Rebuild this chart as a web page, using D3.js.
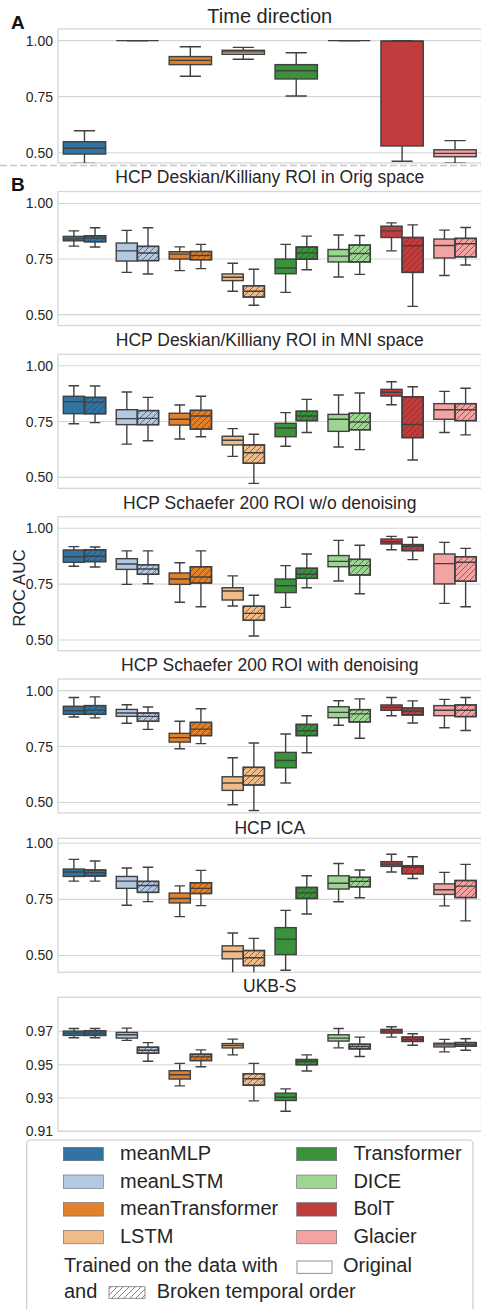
<!DOCTYPE html>
<html>
<head>
<meta charset="utf-8">
<script src="https://cdn.jsdelivr.net/npm/d3@7"></script>
<style>
  body { margin: 0; background: #fff; }
  svg { display: block; font-family: "Liberation Sans", Arial, sans-serif; }
</style>
</head>
<body>
<svg width="481" height="1309"></svg>
<script>
var models = ["meanMLP", "meanLSTM", "meanTransformer", "LSTM", "Transformer", "DICE", "BolT", "Glacier"];
var colors = ["#3274a1", "#b3c8e3", "#e1812c", "#eebb89", "#3a923a", "#9dd692", "#c03d3e", "#f2a3a2"];
var orders = ["Original", "Broken temporal order"];

// each box: [low whisker, q1, median, q3, high whisker]
var timeDirection = [
  [0.452, 0.494, 0.520, 0.549, 0.598],
  [1.000, 1.000, 1.000, 1.000, 1.000],
  [0.841, 0.893, 0.912, 0.929, 0.973],
  [0.917, 0.939, 0.950, 0.957, 0.970],
  [0.753, 0.829, 0.866, 0.893, 0.946],
  [1.000, 1.000, 1.000, 1.000, 1.000],
  [0.462, 0.530, 0.998, 0.998, 1.000],
  [0.453, 0.482, 0.497, 0.513, 0.554]
];

var dkOrigOriginal = [
  [0.808, 0.832, 0.841, 0.852, 0.877],
  [0.690, 0.741, 0.787, 0.822, 0.879],
  [0.698, 0.750, 0.772, 0.783, 0.805],
  [0.605, 0.653, 0.668, 0.683, 0.731],
  [0.600, 0.684, 0.710, 0.750, 0.816],
  [0.669, 0.737, 0.763, 0.793, 0.858],
  [0.787, 0.847, 0.877, 0.898, 0.913],
  [0.676, 0.755, 0.811, 0.840, 0.880]
];
var dkOrigBroken = [
  [0.804, 0.828, 0.844, 0.855, 0.891],
  [0.683, 0.743, 0.777, 0.807, 0.891],
  [0.707, 0.747, 0.766, 0.784, 0.816],
  [0.542, 0.579, 0.605, 0.630, 0.704],
  [0.702, 0.749, 0.778, 0.804, 0.853],
  [0.681, 0.737, 0.775, 0.813, 0.856],
  [0.537, 0.690, 0.810, 0.847, 0.904],
  [0.723, 0.760, 0.819, 0.843, 0.892]
];

var dkMniOriginal = [
  [0.740, 0.785, 0.839, 0.863, 0.910],
  [0.649, 0.736, 0.763, 0.803, 0.882],
  [0.672, 0.734, 0.760, 0.787, 0.824],
  [0.594, 0.645, 0.666, 0.684, 0.718],
  [0.639, 0.682, 0.721, 0.742, 0.790],
  [0.636, 0.706, 0.760, 0.782, 0.869],
  [0.825, 0.864, 0.881, 0.894, 0.928],
  [0.701, 0.760, 0.803, 0.830, 0.885]
];
var dkMniBroken = [
  [0.745, 0.785, 0.837, 0.858, 0.909],
  [0.664, 0.736, 0.764, 0.799, 0.858],
  [0.682, 0.716, 0.775, 0.800, 0.863],
  [0.473, 0.563, 0.610, 0.645, 0.693],
  [0.701, 0.754, 0.775, 0.796, 0.849],
  [0.624, 0.713, 0.748, 0.787, 0.878],
  [0.578, 0.678, 0.737, 0.861, 0.906],
  [0.690, 0.754, 0.803, 0.830, 0.899]
];

var schRawOriginal = [
  [0.830, 0.848, 0.873, 0.903, 0.918],
  [0.749, 0.816, 0.840, 0.864, 0.899],
  [0.669, 0.749, 0.773, 0.800, 0.846],
  [0.652, 0.679, 0.719, 0.734, 0.787],
  [0.646, 0.712, 0.743, 0.773, 0.833],
  [0.764, 0.828, 0.852, 0.878, 0.946],
  [0.904, 0.930, 0.940, 0.952, 0.964],
  [0.664, 0.751, 0.842, 0.885, 0.937]
];
var schRawBroken = [
  [0.827, 0.851, 0.875, 0.904, 0.916],
  [0.752, 0.794, 0.818, 0.837, 0.899],
  [0.649, 0.755, 0.782, 0.828, 0.899],
  [0.518, 0.588, 0.619, 0.651, 0.700],
  [0.734, 0.776, 0.794, 0.821, 0.885],
  [0.707, 0.791, 0.833, 0.861, 0.924],
  [0.860, 0.900, 0.919, 0.927, 0.960],
  [0.649, 0.763, 0.848, 0.873, 0.910]
];

var schDenOriginal = [
  [0.882, 0.894, 0.910, 0.930, 0.969],
  [0.854, 0.885, 0.900, 0.916, 0.937],
  [0.740, 0.770, 0.790, 0.809, 0.863],
  [0.490, 0.554, 0.587, 0.615, 0.700],
  [0.587, 0.655, 0.688, 0.724, 0.806],
  [0.845, 0.879, 0.903, 0.928, 0.955],
  [0.888, 0.912, 0.925, 0.936, 0.969],
  [0.834, 0.888, 0.912, 0.933, 0.961]
];
var schDenBroken = [
  [0.878, 0.894, 0.913, 0.933, 0.972],
  [0.827, 0.863, 0.885, 0.900, 0.927],
  [0.763, 0.799, 0.828, 0.858, 0.919],
  [0.464, 0.578, 0.619, 0.657, 0.766],
  [0.722, 0.799, 0.821, 0.849, 0.888],
  [0.787, 0.860, 0.896, 0.915, 0.963],
  [0.855, 0.891, 0.909, 0.922, 0.954],
  [0.822, 0.884, 0.912, 0.936, 0.969]
];

var icaOriginal = [
  [0.831, 0.852, 0.872, 0.885, 0.928],
  [0.724, 0.799, 0.831, 0.852, 0.890],
  [0.673, 0.734, 0.754, 0.778, 0.810],
  [0.400, 0.485, 0.518, 0.543, 0.600],
  [0.434, 0.504, 0.573, 0.624, 0.701],
  [0.739, 0.796, 0.822, 0.855, 0.910],
  [0.872, 0.897, 0.907, 0.918, 0.951],
  [0.721, 0.772, 0.793, 0.819, 0.870]
];
var icaBroken = [
  [0.831, 0.854, 0.869, 0.881, 0.921],
  [0.740, 0.781, 0.812, 0.830, 0.893],
  [0.722, 0.776, 0.799, 0.824, 0.879],
  [0.410, 0.455, 0.490, 0.522, 0.576],
  [0.685, 0.754, 0.779, 0.803, 0.855],
  [0.757, 0.806, 0.830, 0.848, 0.881],
  [0.843, 0.864, 0.893, 0.900, 0.940],
  [0.654, 0.758, 0.809, 0.834, 0.906]
];

var ukbOriginal = [
  [0.9662, 0.9676, 0.9690, 0.9702, 0.9718],
  [0.9646, 0.9660, 0.9680, 0.9694, 0.9720],
  [0.9373, 0.9414, 0.9440, 0.9464, 0.9508],
  [0.9559, 0.9601, 0.9615, 0.9627, 0.9654],
  [0.9220, 0.9285, 0.9305, 0.9329, 0.9355],
  [0.9601, 0.9642, 0.9660, 0.9680, 0.9718],
  [0.9666, 0.9690, 0.9702, 0.9712, 0.9728],
  [0.9577, 0.9607, 0.9619, 0.9629, 0.9652]
];
var ukbBroken = [
  [0.9662, 0.9676, 0.9690, 0.9704, 0.9718],
  [0.9521, 0.9569, 0.9587, 0.9605, 0.9633],
  [0.9488, 0.9525, 0.9547, 0.9563, 0.9589],
  [0.9283, 0.9377, 0.9416, 0.9446, 0.9508],
  [0.9462, 0.9500, 0.9519, 0.9531, 0.9559],
  [0.9549, 0.9595, 0.9609, 0.9623, 0.9666],
  [0.9617, 0.9640, 0.9652, 0.9666, 0.9686],
  [0.9587, 0.9611, 0.9621, 0.9633, 0.9656]
];

var ticksAUC = [0.50, 0.75, 1.00];
var ticksUKB = [0.91, 0.93, 0.95, 0.97];

var titles = [
  "Time direction",
  "HCP Deskian/Killiany ROI in Orig space",
  "HCP Deskian/Killiany ROI in MNI space",
  "HCP Schaefer 200 ROI w/o denoising",
  "HCP Schaefer 200 ROI with denoising",
  "HCP ICA",
  "UKB-S"
];
var yLimits = [
  [0.454, 1.052], [0.451, 1.054], [0.451, 1.051], [0.452, 1.052],
  [0.453, 1.052], [0.425, 1.022], [0.910, 0.9905]
];

// panel list (boxes per panel: single series for A, two hue series for B)
var panels = [
  { title: titles[0], series: [timeDirection], ticks: ticksAUC, lim: yLimits[0] },
  { title: titles[1], series: [dkOrigOriginal, dkOrigBroken], ticks: ticksAUC, lim: yLimits[1] },
  { title: titles[2], series: [dkMniOriginal, dkMniBroken], ticks: ticksAUC, lim: yLimits[2] },
  { title: titles[3], series: [schRawOriginal, schRawBroken], ticks: ticksAUC, lim: yLimits[3] },
  { title: titles[4], series: [schDenOriginal, schDenBroken], ticks: ticksAUC, lim: yLimits[4] },
  { title: titles[5], series: [icaOriginal, icaBroken], ticks: ticksAUC, lim: yLimits[5] },
  { title: titles[6], series: [ukbOriginal, ukbBroken], ticks: ticksUKB, lim: yLimits[6] }
];

// layout
var left = 58, right = 481.5, plotH = 134;
var tops = [29, 191.5, 354.3, 516.7, 679, 838.3, 997.3];
var titleY = [22.5, 182.5, 345.5, 509, 671, 833.5, 991.5];
var edge = "#404040", gridColor = "#d6d6d6", textColor = "#262626";

var svg = d3.select("svg");
var defs = svg.append("defs");

// hatch "///"
defs.append("pattern")
    .attr("id", "hatch")
    .attr("patternUnits", "userSpaceOnUse")
    .attr("width", 6)
    .attr("height", 6)
  .append("path")
    .attr("d", "M-1,1 l2,-2 M0,6 l6,-6 M5,7 l2,-2")
    .attr("stroke", edge)
    .attr("stroke-opacity", 0.75)
    .attr("stroke-width", 0.9);

var x = d3.scaleBand().domain(models).range([left, right]).padding(0);
var hue = d3.scaleBand().domain(orders)
    .range([x.bandwidth() * 0.1, x.bandwidth() * 0.9]).padding(0);

panels.forEach(function(p, pi) {
  var top = tops[pi];
  var y = d3.scaleLinear().domain(p.lim).range([top + plotH, top]);
  var g = svg.append("g");

  defs.append("clipPath").attr("id", "clip" + pi)
    .append("rect")
      .attr("x", left).attr("y", top)
      .attr("width", right - left).attr("height", plotH);

  // grid
  g.selectAll("line.grid")
    .data(p.ticks)
    .enter().append("line")
      .attr("x1", left).attr("x2", right)
      .attr("y1", function(d) { return y(d); })
      .attr("y2", function(d) { return y(d); })
      .attr("stroke", gridColor)
      .attr("stroke-width", 1.1);

  // frame
  g.append("rect")
    .attr("x", left).attr("y", top)
    .attr("width", right - left).attr("height", plotH)
    .attr("fill", "none")
    .attr("stroke", gridColor)
    .attr("stroke-width", 1.3);

  // y axis labels
  var axis = d3.axisLeft(y).tickValues(p.ticks).tickSize(0).tickPadding(5)
      .tickFormat(d3.format(".2f"));
  var ax = g.append("g").attr("transform", "translate(" + (left) + ",0)").call(axis);
  ax.select(".domain").remove();
  ax.selectAll("text")
    .attr("font-size", 14)
    .attr("font-family", "Liberation Sans, Arial, sans-serif")
    .attr("fill", textColor);

  // title
  g.append("text")
    .attr("x", (left + right) / 2)
    .attr("y", titleY[pi])
    .attr("text-anchor", "middle")
    .attr("font-size", pi === 0 ? 20 : 17.5)
    .attr("fill", textColor)
    .text(p.title);

  // boxes
  var boxes = [];
  p.series.forEach(function(ser, si) {
    ser.forEach(function(s, mi) {
      var cx, w;
      if (p.series.length === 1) {
        cx = x(models[mi]) + x.bandwidth() / 2;
        w = x.bandwidth() * 0.8;
      } else {
        cx = x(models[mi]) + hue(orders[si]) + hue.bandwidth() / 2;
        w = hue.bandwidth();
      }
      boxes.push({ cx: cx, w: w, s: s, color: colors[mi], hatched: si === 1 });
    });
  });

  var bg = g.append("g").attr("clip-path", "url(#clip" + pi + ")");
  var b = bg.selectAll("g.box").data(boxes).enter().append("g").attr("class", "box");

  // whiskers
  b.append("line")
    .attr("x1", function(d) { return d.cx; }).attr("x2", function(d) { return d.cx; })
    .attr("y1", function(d) { return y(d.s[4]); }).attr("y2", function(d) { return y(d.s[3]); })
    .attr("stroke", edge).attr("stroke-width", 1.4);
  b.append("line")
    .attr("x1", function(d) { return d.cx; }).attr("x2", function(d) { return d.cx; })
    .attr("y1", function(d) { return y(d.s[1]); }).attr("y2", function(d) { return y(d.s[0]); })
    .attr("stroke", edge).attr("stroke-width", 1.4);
  // caps
  [0, 4].forEach(function(k) {
    b.append("line")
      .attr("x1", function(d) { return d.cx - d.w / 4; })
      .attr("x2", function(d) { return d.cx + d.w / 4; })
      .attr("y1", function(d) { return y(d.s[k]); })
      .attr("y2", function(d) { return y(d.s[k]); })
      .attr("stroke", edge).attr("stroke-width", 1.4);
  });
  // box body
  b.append("rect")
    .attr("x", function(d) { return d.cx - d.w / 2; })
    .attr("y", function(d) { return y(d.s[3]); })
    .attr("width", function(d) { return d.w; })
    .attr("height", function(d) { return Math.max(0, y(d.s[1]) - y(d.s[3])); })
    .attr("fill", function(d) { return d.color; })
    .attr("stroke", edge).attr("stroke-width", 1.4);
  b.filter(function(d) { return d.hatched; })
    .append("rect")
      .attr("x", function(d) { return d.cx - d.w / 2; })
      .attr("y", function(d) { return y(d.s[3]); })
      .attr("width", function(d) { return d.w; })
      .attr("height", function(d) { return Math.max(0, y(d.s[1]) - y(d.s[3])); })
      .attr("fill", "url(#hatch)")
      .attr("stroke", edge).attr("stroke-width", 1.4);
  // median
  b.append("line")
    .attr("x1", function(d) { return d.cx - d.w / 2; })
    .attr("x2", function(d) { return d.cx + d.w / 2; })
    .attr("y1", function(d) { return y(d.s[2]); })
    .attr("y2", function(d) { return y(d.s[2]); })
    .attr("stroke", edge).attr("stroke-width", 1.4);
});

// panel letters
svg.append("text").attr("x", 11).attr("y", 28.5)
  .attr("font-size", 19).attr("font-weight", "bold").attr("fill", "#111").text("A");
svg.append("text").attr("x", 11).attr("y", 191)
  .attr("font-size", 19).attr("font-weight", "bold").attr("fill", "#111").text("B");

// separator
svg.append("line")
  .attr("x1", 0).attr("x2", 481).attr("y1", 165.5).attr("y2", 165.5)
  .attr("stroke", "#c8c8c8").attr("stroke-width", 1.3)
  .attr("stroke-dasharray", "7,3");

// y label
svg.append("text")
  .attr("transform", "translate(25,588) rotate(-90)")
  .attr("text-anchor", "middle")
  .attr("font-size", 17)
  .attr("fill", textColor)
  .text("ROC AUC");

// legend
var lg = svg.append("g");
lg.append("rect")
  .attr("x", 26.7).attr("y", 1140).attr("width", 446.3).attr("height", 200)
  .attr("rx", 4)
  .attr("fill", "#fff").attr("stroke", "#cccccc").attr("stroke-width", 1.2);

var rowH = 27.7;
var items = lg.selectAll("g.item").data(models).enter().append("g").attr("class", "item")
  .attr("transform", function(d, i) {
    var col = i < 4 ? 0 : 1, row = i % 4;
    return "translate(" + (col ? 296.7 : 63.3) + "," + (1147.3 + row * rowH) + ")";
  });
items.append("rect")
  .attr("width", 40).attr("height", 13.4)
  .attr("fill", function(d, i) { return colors[i]; })
  .attr("stroke", "#666").attr("stroke-width", 0.6);
items.append("text")
  .attr("x", 56.7).attr("y", 12.7)
  .attr("font-size", 20).attr("fill", textColor)
  .text(function(d) { return d; });

lg.append("text").attr("x", 64).attr("y", 1271.5)
  .attr("font-size", 20).attr("fill", textColor).text("Trained on the data with");
lg.append("rect").attr("x", 297).attr("y", 1261).attr("width", 35).attr("height", 12.3)
  .attr("fill", "#fff").attr("stroke", "#777").attr("stroke-width", 0.8);
lg.append("text").attr("x", 343).attr("y", 1271.5)
  .attr("font-size", 20).attr("fill", textColor).text(orders[0]);

lg.append("text").attr("x", 64).attr("y", 1298.3)
  .attr("font-size", 20).attr("fill", textColor).text("and");
lg.append("rect").attr("x", 109).attr("y", 1286.7).attr("width", 36).attr("height", 11.6)
  .attr("fill", "url(#hatch)").attr("stroke", "#777").attr("stroke-width", 0.8);
lg.append("text").attr("x", 156.7).attr("y", 1298.3)
  .attr("font-size", 20).attr("fill", textColor).text(orders[1]);
</script>
</body>
</html>
